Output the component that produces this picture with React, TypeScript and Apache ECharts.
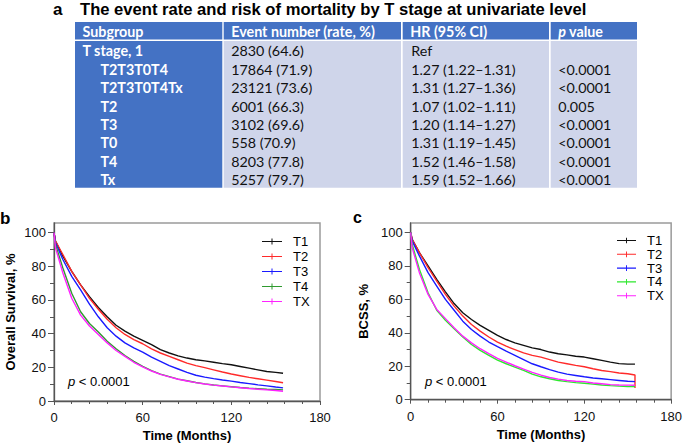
import React, { useEffect, useRef } from "react";
import * as echarts from "echarts";

const FONT = "'Liberation Sans', Arial, sans-serif";
const TFONT = "Lato, 'Open Sans', sans-serif";

// ---------- table data ----------
const titleLetter = "a";
const tableTitle = "The event rate and risk of mortality by T stage at univariate level";
const tableHeaders = ["Subgroup", "Event number (rate, %)", "HR (95% CI)", "p value"];
const subgroups = ["T stage, 1", "T2T3T0T4", "T2T3T0T4Tx", "T2", "T3", "T0", "T4", "Tx"];
const eventNumbers = ["2830 (64.6)", "17864 (71.9)", "23121 (73.6)", "6001 (66.3)", "3102 (69.6)", "558 (70.9)", "8203 (77.8)", "5257 (79.7)"];
const hazardRatios = ["Ref", "1.27 (1.22–1.31)", "1.31 (1.27–1.36)", "1.07 (1.02–1.11)", "1.20 (1.14–1.27)", "1.31 (1.19–1.45)", "1.52 (1.46–1.58)", "1.59 (1.52–1.66)"];
const pValues = ["", "<0.0001", "<0.0001", "0.005", "<0.0001", "<0.0001", "<0.0001", "<0.0001"];

// ---------- survival data ----------
const months = [0, 1, 6, 12, 18, 24, 30, 36, 42, 48, 54, 60, 66, 72, 78, 84, 90, 96, 102, 108, 114, 120, 126, 132, 138, 144, 150, 155];
const groupNames = ["T1", "T2", "T3", "T4", "TX"];
// Overall survival (%)
const osT1 = [100, 95, 86, 77, 69, 62, 55.5, 50, 45, 41.5, 38.5, 36, 33.5, 30.5, 28.5, 26.8, 25.5, 24.5, 23.8, 23, 22.2, 21.5, 20.5, 19.5, 18.5, 17.5, 17, 16.5];
const osT2 = [100, 95, 87, 77, 69, 61, 54.5, 48.5, 43.5, 39.5, 36.5, 34, 31, 28.5, 26.5, 24.5, 22.5, 21, 19.8, 18.5, 17.2, 16, 15, 14, 13.2, 12.4, 11.6, 10.8];
const osT3 = [100, 94, 84, 74, 66, 57.5, 50, 43.5, 38.5, 34.5, 31.5, 29, 26, 23.5, 21, 19, 17, 15.3, 14.2, 13.3, 12.5, 11.8, 11, 10.3, 9.6, 9, 8.3, 7.8];
const osT4 = [100, 93, 79, 64, 53, 46, 41, 35.5, 31, 27, 23.5, 20.5, 18, 16, 14.5, 13, 12, 11, 10.2, 9.5, 9, 8.5, 8, 7.6, 7.3, 7, 6.8, 6.6];
const osTX = [100, 91, 76, 61, 51, 44.5, 39.5, 34.5, 30, 26.5, 23, 20.2, 17.8, 15.8, 14.3, 12.9, 11.9, 10.9, 10.1, 9.4, 8.9, 8.4, 7.9, 7.4, 7.0, 6.6, 6.2, 5.8];
// Breast-cancer-specific survival (%)
const bcssT1 = [100, 96, 88, 80, 72, 64.5, 57.5, 52, 48, 44.5, 41.5, 38.5, 36, 34, 32.5, 31, 30, 28.5, 27.5, 26.8, 26, 25.5, 24.5, 23.5, 22.5, 21.6, 21.3, 21.3];
const bcssT2 = [100, 96, 88, 79, 71, 63, 56, 50, 45, 41, 37.5, 34.5, 32, 30, 28, 26.5, 25.5, 24, 22.5, 21.5, 20.5, 19.7, 18.5, 17.5, 16.8, 16, 15.5, 14.8];
const bcssT2Final = 7;
const bcssT3 = [100, 95, 86, 76, 68, 60, 53.5, 47, 42, 38, 34.5, 31.7, 29, 26.5, 24, 21.5, 19.7, 18, 16.5, 15.3, 14.5, 13.7, 13, 12.5, 12, 11.5, 11, 10.8];
const bcssT4 = [100, 93, 78, 64, 53.5, 47.5, 42.5, 37.5, 33, 29.5, 26.5, 23.7, 21.5, 19.5, 17.5, 15.3, 13.7, 12.5, 11.5, 10.8, 10.2, 9.8, 9.3, 8.8, 8.4, 8.1, 7.9, 7.8];
const bcssTX = [100, 91, 76, 63, 54, 48.5, 43, 38, 34, 30.5, 27.5, 24.7, 22.5, 20.3, 18.3, 16.3, 14.7, 13.3, 12.3, 11.5, 11, 10.8, 10, 9.5, 9, 8.8, 8.7, 8.6];

const yMajorTicks = [0, 20, 40, 60, 80, 100];
const yMinorTicks = [10, 30, 50, 70, 90];
const pText = "< 0.0001";

const colorsB = ["#111111", "#ff2a2a", "#1a1aff", "#2f9a2f", "#ff22ff"];
const colorsC = ["#111111", "#ff2a2a", "#1a1aff", "#2ee82e", "#ff22ff"];

const Y_MAX = 105.7;

function pairs(vals: number[]) {
  return months.map((m, i) => [m, vals[i]]);
}

function buildTable() {
  const els: any[] = [];
  const colX = [75, 223.7, 402.7, 550.7];
  const colW = [147.3, 177.3, 146.3, 86.3];
  const headTop = 22, headH = 17.5;
  const bodyTop = 41, rowH = 18.35;
  const blue = "#4472C4", light = "#CFD5EA";
  const bodyH = rowH * subgroups.length;
  colX.forEach((x, c) => {
    els.push({ type: "rect", shape: { x, y: headTop, width: colW[c], height: headH }, style: { fill: blue } });
    els.push({ type: "rect", shape: { x, y: bodyTop, width: colW[c], height: bodyH }, style: { fill: c === 0 ? blue : light } });
  });
  const fs = 14.3;
  const headFont = `bold ${fs}px ${TFONT}`;
  tableHeaders.forEach((h, c) => {
    if (h.startsWith("p ")) {
      els.push({
        type: "text", x: colX[c] + 7.5, y: headTop + headH / 2 + 0.5,
        style: {
          text: "{i|p}{b|" + h.slice(1) + "}", textVerticalAlign: "middle", fill: "#fff",
          rich: {
            i: { fontStyle: "italic", fontWeight: "bold", fontSize: fs, fontFamily: TFONT, fill: "#fff" },
            b: { fontWeight: "bold", fontSize: fs, fontFamily: TFONT, fill: "#fff" },
          },
        },
      });
    } else {
      els.push({ type: "text", x: colX[c] + 7.5, y: headTop + headH / 2 + 0.5, style: { text: h, font: headFont, fill: "#fff", textVerticalAlign: "middle" } });
    }
  });
  const bodyFont = `${fs}px ${TFONT}`;
  subgroups.forEach((s, r) => {
    const yc = bodyTop + rowH * (r + 0.5) + 0.8;
    els.push({ type: "text", x: colX[0] + (r === 0 ? 7.5 : 25.5), y: yc, style: { text: s, font: headFont, fill: "#fff", textVerticalAlign: "middle" } });
    els.push({ type: "text", x: colX[1] + 7.5, y: yc, style: { text: eventNumbers[r], font: bodyFont, fill: "#111", textVerticalAlign: "middle" } });
    els.push({ type: "text", x: colX[2] + 8.5, y: yc, style: { text: hazardRatios[r], font: bodyFont, fill: "#111", textVerticalAlign: "middle" } });
    if (pValues[r]) els.push({ type: "text", x: colX[3] + 7.5, y: yc, style: { text: pValues[r], font: bodyFont, fill: "#111", textVerticalAlign: "middle" } });
  });
  els.push({ type: "text", x: 53, y: 9.3, style: { text: titleLetter, font: `bold 17px ${FONT}`, fill: "#000", textVerticalAlign: "middle" } });
  els.push({ type: "text", x: 80, y: 9.3, style: { text: tableTitle, font: `bold 16.6px ${FONT}`, fill: "#000", textVerticalAlign: "middle" } });
  return els;
}

function pLabel(x: number, y: number) {
  return {
    type: "text", x, y,
    style: {
      text: "{i|p}{n| " + pText + "}", textVerticalAlign: "middle",
      rich: {
        i: { fontStyle: "italic", fontSize: 13, fontFamily: FONT, fill: "#000" },
        n: { fontSize: 13, fontFamily: FONT, fill: "#000" },
      },
    },
  };
}

function xAxis(grid: number) {
  return {
    gridIndex: grid, type: "value", min: 0, max: 180, interval: 60,
    name: "Time (Months)", nameLocation: "middle", nameGap: 28,
    nameTextStyle: { fontFamily: FONT, fontWeight: "bold", fontSize: 13, color: "#000" },
    axisLine: { show: true, onZero: false, lineStyle: { color: "#555", width: 1.3 } },
    axisTick: { show: true, length: 4, lineStyle: { color: "#555", width: 1 } },
    minorTick: { show: true, splitNumber: 5, length: 3, lineStyle: { color: "#555", width: 1 } },
    axisLabel: { fontFamily: FONT, fontSize: 13, color: "#111", margin: 10 },
    splitLine: { show: false },
  };
}

function yAxes(grid: number, name: string, nameGap: number) {
  return [
    {
      gridIndex: grid, type: "value", min: 0, max: Y_MAX, interval: 20, position: "left",
      name, nameLocation: "middle", nameGap,
      nameTextStyle: { fontFamily: FONT, fontWeight: "bold", fontSize: 13, color: "#000" },
      axisLine: { show: true, onZero: false, lineStyle: { color: "#555", width: 1.3 } },
      axisTick: { show: true, length: 6, customValues: yMajorTicks, lineStyle: { color: "#555", width: 1 } },
      axisLabel: {
        customValues: yMajorTicks, fontFamily: FONT, fontSize: 13, color: "#111", margin: 8,
        formatter: (v: number) => (yMajorTicks.indexOf(v) >= 0 ? String(v) : ""),
      },
      splitLine: { show: false },
    },
    {
      gridIndex: grid, type: "value", min: 0, max: Y_MAX, position: "left",
      axisLine: { show: false, onZero: false },
      axisTick: { show: true, length: 4, customValues: yMinorTicks, lineStyle: { color: "#555", width: 1 } },
      axisLabel: { show: false },
      splitLine: { show: false },
    },
  ];
}

const legendIcon = "path://M0,3.4L20,3.4L20,4.6L0,4.6Z M9.5,1L10.5,1L10.5,7L9.5,7Z";

export default function App() {
  const ref = useRef<HTMLDivElement>(null);
  useEffect(() => {
    if (!ref.current) return;
    const chart = echarts.init(ref.current, null, { renderer: "svg", width: 685, height: 446 });
    const osData = [osT1, osT2, osT3, osT4, osTX];
    const bcData = [bcssT1, bcssT2, bcssT3, bcssT4, bcssTX];
    const seriesB = groupNames.map((n, i) => ({
      name: n, type: "line", xAxisIndex: 0, yAxisIndex: 0, data: pairs(osData[i]),
      showSymbol: false, symbol: "none", lineStyle: { color: colorsB[i], width: 1.4 }, itemStyle: { color: colorsB[i] },
    }));
    const seriesC = groupNames.map((n, i) => {
      const d = pairs(bcData[i]);
      if (i === 1) d.push([months[months.length - 1], bcssT2Final]);
      return {
        name: "BCSS-" + n, type: "line", xAxisIndex: 1, yAxisIndex: 2, data: d,
        showSymbol: false, symbol: "none", lineStyle: { color: colorsC[i], width: 1.4 }, itemStyle: { color: colorsC[i] },
      };
    });
    const legendText = { fontFamily: FONT, fontSize: 13, color: "#000", padding: [0, 0, 0, 6] };
    const option: any = {
      animation: false,
      backgroundColor: "#fff",
      grid: [
        { left: 54, top: 223, width: 266, height: 178, show: true, borderColor: "#9a9a9a", borderWidth: 1.5, backgroundColor: "transparent" },
        { left: 410.7, top: 223, width: 264.3, height: 176.7, show: true, borderColor: "#9a9a9a", borderWidth: 1.5, backgroundColor: "transparent" },
      ],
      xAxis: [xAxis(0), xAxis(1)],
      yAxis: [...yAxes(0, "Overall Survival, %", 37), ...yAxes(1, "BCSS, %", 41)],
      legend: [
        {
          left: 262, top: 235, padding: 0, orient: "vertical", itemWidth: 20, itemHeight: 7, itemGap: 2,
          icon: legendIcon,
          data: groupNames.map((n, i) => ({ name: n, itemStyle: { color: colorsB[i] } })),
          textStyle: legendText,
        },
        {
          left: 617, top: 234, padding: 0, orient: "vertical", itemWidth: 19, itemHeight: 7, itemGap: 0.8,
          icon: legendIcon,
          data: groupNames.map((n, i) => ({ name: "BCSS-" + n, itemStyle: { color: colorsC[i] } })),
          formatter: (name: string) => name.replace("BCSS-", ""),
          textStyle: legendText,
        },
      ],
      series: [...seriesB, ...seriesC],
      graphic: [
        ...buildTable(),
        { type: "text", x: 0, y: 218, style: { text: "b", font: `bold 17px ${FONT}`, fill: "#000", textVerticalAlign: "middle" } },
        { type: "text", x: 353, y: 217.7, style: { text: "c", font: `bold 16px ${FONT}`, fill: "#000", textVerticalAlign: "middle" } },
        pLabel(68, 381),
        pLabel(425, 381),
      ],
    };
    chart.setOption(option);
    return () => chart.dispose();
  }, []);
  return <div ref={ref} style={{ position: "fixed", left: 0, top: 0, width: 685, height: 446, background: "#fff" }} />;
}
